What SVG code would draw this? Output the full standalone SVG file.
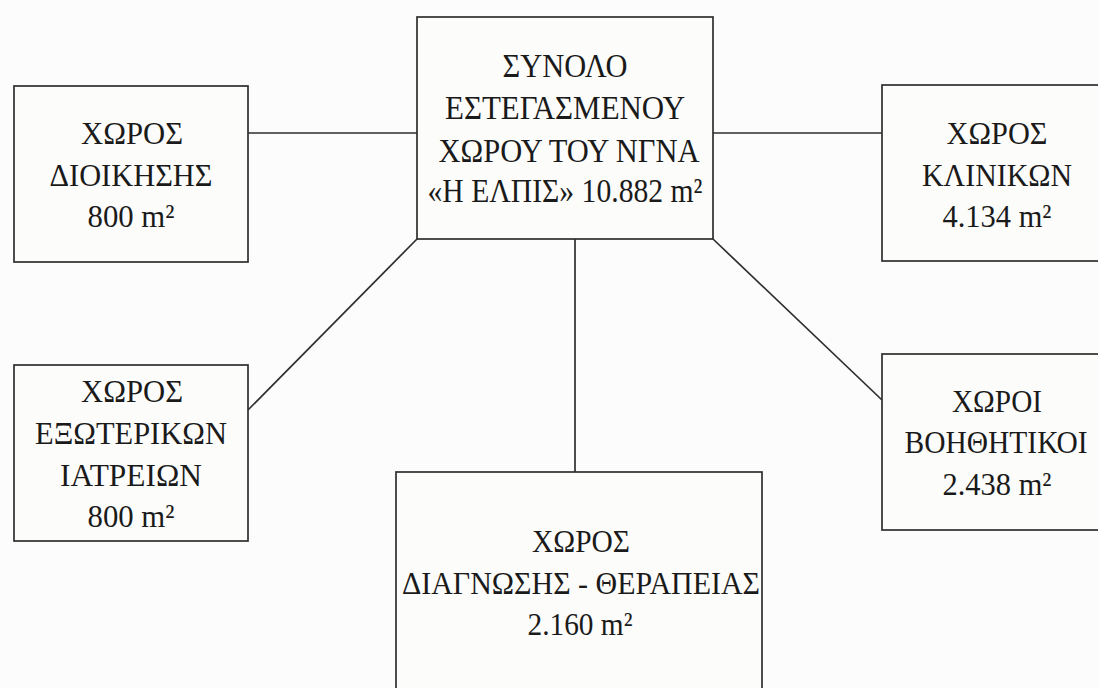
<svg xmlns="http://www.w3.org/2000/svg" width="1098" height="688" viewBox="0 0 1098 688">
<style>
.box{fill:#fcfcfb;stroke:#2e2e2e;stroke-width:1.7}
.ln{stroke:#2e2e2e;stroke-width:1.7;fill:none}
text{font-family:'Liberation Serif','DejaVu Serif',serif;fill:#1a1a1a;text-anchor:middle}
.t{font-size:31.5px}
.c{font-size:33.5px}
</style>
<rect width="1098" height="688" fill="#fbfcfb"/>
<g id="connectors">
<line class="ln" x1="248" y1="133" x2="417" y2="133"/>
<line class="ln" x1="713" y1="133" x2="882" y2="133"/>
<line class="ln" x1="417" y1="239" x2="248" y2="410"/>
<line class="ln" x1="713" y1="239" x2="882" y2="400"/>
<line class="ln" x1="575" y1="239" x2="575" y2="472"/>
</g>
<g id="node-total">
<rect class="box" x="417" y="17" width="296" height="222"/>
<text class="c" x="565" y="77" textLength="125" lengthAdjust="spacingAndGlyphs">ΣΥΝΟΛΟ</text>
<text class="c" x="565" y="119" textLength="240" lengthAdjust="spacingAndGlyphs">ΕΣΤΕΓΑΣΜΕΝΟΥ</text>
<text class="c" x="569" y="162" textLength="261" lengthAdjust="spacingAndGlyphs">ΧΩΡΟΥ ΤΟΥ ΝΓΝΑ</text>
<text class="c" x="565" y="202" textLength="275" lengthAdjust="spacingAndGlyphs">«Η ΕΛΠΙΣ» 10.882 m²</text>
</g>
<g id="node-admin">
<rect class="box" x="14" y="86" width="234" height="176"/>
<text class="t" x="132" y="144" textLength="102" lengthAdjust="spacingAndGlyphs">ΧΩΡΟΣ</text>
<text class="t" x="131" y="186" textLength="163" lengthAdjust="spacingAndGlyphs">ΔΙΟΙΚΗΣΗΣ</text>
<text class="t" x="131" y="227" textLength="87" lengthAdjust="spacingAndGlyphs">800 m²</text>
</g>
<g id="node-outpatient">
<rect class="box" x="14" y="365" width="234" height="176"/>
<text class="t" x="132" y="402" textLength="102" lengthAdjust="spacingAndGlyphs">ΧΩΡΟΣ</text>
<text class="t" x="131" y="444" textLength="192" lengthAdjust="spacingAndGlyphs">ΕΞΩΤΕΡΙΚΩΝ</text>
<text class="t" x="131" y="486" textLength="142" lengthAdjust="spacingAndGlyphs">ΙΑΤΡΕΙΩΝ</text>
<text class="t" x="131" y="527" textLength="87" lengthAdjust="spacingAndGlyphs">800 m²</text>
</g>
<g id="node-clinics">
<rect class="box" x="882" y="85" width="240" height="176"/>
<text class="t" x="997" y="144" textLength="101" lengthAdjust="spacingAndGlyphs">ΧΩΡΟΣ</text>
<text class="t" x="997" y="186" textLength="150" lengthAdjust="spacingAndGlyphs">ΚΛΙΝΙΚΩΝ</text>
<text class="t" x="997" y="227" textLength="109" lengthAdjust="spacingAndGlyphs">4.134 m²</text>
</g>
<g id="node-auxiliary">
<rect class="box" x="882" y="354" width="240" height="176"/>
<text class="t" x="997" y="412" textLength="90" lengthAdjust="spacingAndGlyphs">ΧΩΡΟΙ</text>
<text class="t" x="996" y="453" textLength="183" lengthAdjust="spacingAndGlyphs">ΒΟΗΘΗΤΙΚΟΙ</text>
<text class="t" x="997" y="495" textLength="109" lengthAdjust="spacingAndGlyphs">2.438 m²</text>
</g>
<g id="node-diagnosis">
<rect class="box" x="396" y="472" width="366" height="240"/>
<text class="t" x="581" y="552" textLength="98" lengthAdjust="spacingAndGlyphs">ΧΩΡΟΣ</text>
<text class="t" x="581" y="594" textLength="358" lengthAdjust="spacingAndGlyphs">ΔΙΑΓΝΩΣΗΣ - ΘΕΡΑΠΕΙΑΣ</text>
<text class="t" x="580" y="635" textLength="105" lengthAdjust="spacingAndGlyphs">2.160 m²</text>
</g>
</svg>
